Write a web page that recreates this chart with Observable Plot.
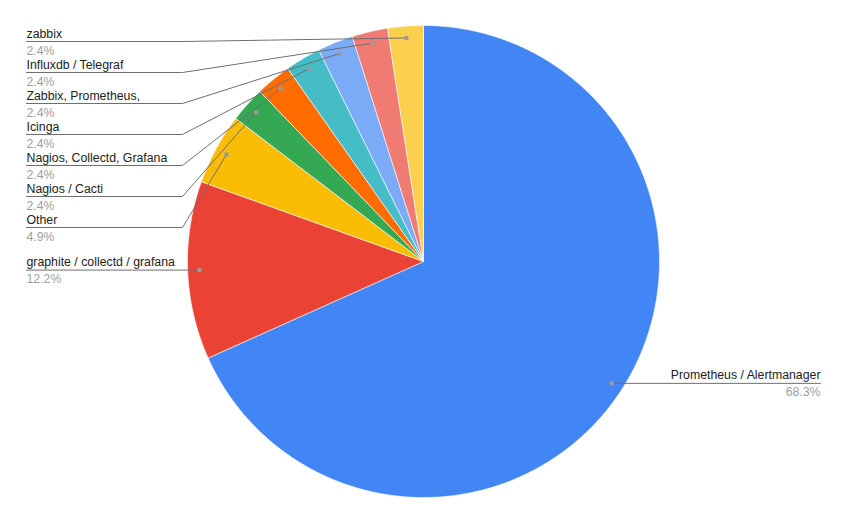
<!DOCTYPE html>
<html>
<head>
<meta charset="utf-8">
<script src="https://cdn.jsdelivr.net/npm/d3@7"></script>
<script src="https://cdn.jsdelivr.net/npm/@observablehq/plot@0.6"></script>
<style>
  html, body { margin: 0; padding: 0; background: #fff; }
  #chart { width: 846px; height: 523px; }
</style>
</head>
<body>
<div id="chart"></div>
<script>
// ---- data ----
const categories = [
  "Prometheus / Alertmanager",
  "graphite / collectd / grafana",
  "Other",
  "Nagios / Cacti",
  "Nagios, Collectd, Grafana",
  "Icinga",
  "Zabbix, Prometheus,",
  "Influxdb / Telegraf",
  "zabbix"
];
const counts = [28, 5, 2, 1, 1, 1, 1, 1, 1];
const colors = ["#4285f4", "#ea4335", "#fbbc04", "#34a853", "#ff6d01", "#46bdc6", "#7baaf7", "#f07b72", "#fcd04f"];

// ---- layout constants (pixels relative to pie centre, y up) ----
const W = 846, H = 523, CX = 423, CY = 261, R = 236;
const FS = 12.3;
const total = d3.sum(counts);
const pie = d3.pie().sort(null).value(d => d)(counts);

// slice polygons
const slicePts = [];
pie.forEach((p, i) => {
  const name = categories[i];
  const steps = Math.max(2, Math.ceil((p.endAngle - p.startAngle) / (Math.PI / 360)));
  slicePts.push({name, x: 0, y: 0});
  for (let k = 0; k <= steps; k++) {
    const a = p.startAngle + (p.endAngle - p.startAngle) * k / steps;
    slicePts.push({name, x: R * Math.sin(a), y: R * Math.cos(a)});
  }
  slicePts.push({name, x: 0, y: 0});
});

// label anchors
const anchors = pie.map((p, i) => {
  const a = (p.startAngle + p.endAngle) / 2;
  return {
    name: categories[i],
    pct: (counts[i] / total * 100).toFixed(1) + "%",
    x: 0.95 * R * Math.sin(a),
    y: 0.95 * R * Math.cos(a),
    left: a > Math.PI
  };
});

// left labels: stacked from top, min spacing 31px, top limit
const leftX0 = 26 - CX, leftX1 = 182 - CX, rightX = 820 - CX;
const leftLabels = anchors.filter(d => d.left).sort((a, b) => b.y - a.y);
let prev = null;
leftLabels.forEach(d => {
  let ly = Math.min(d.y, CY - 41);
  if (prev !== null) ly = Math.min(ly, prev - 31);
  d.ly = ly; prev = ly;
});
const rightLabels = anchors.filter(d => !d.left);
rightLabels.forEach(d => { d.ly = d.y; });

const leaderPts = [];
leftLabels.forEach(d => {
  leaderPts.push({name: d.name, x: leftX0, y: d.ly});
  leaderPts.push({name: d.name, x: leftX1, y: d.ly});
  leaderPts.push({name: d.name, x: d.x, y: d.y});
});
rightLabels.forEach(d => {
  leaderPts.push({name: d.name, x: d.x, y: d.y});
  leaderPts.push({name: d.name, x: rightX, y: d.ly});
});

const leftRows = leftLabels.map(d => ({...d, tx: leftX0}));
const rightRows = rightLabels.map(d => ({...d, tx: rightX}));

const chart = Plot.plot({
  width: W, height: H,
  margin: 0,
  style: {fontFamily: "Arial, 'Liberation Sans', sans-serif", background: "#fff"},
  x: {domain: [-CX, W - CX], range: [0, W], axis: null},
  y: {domain: [-(H - CY), CY], range: [H, 0], axis: null},
  color: {domain: categories, range: colors},
  marks: [
    Plot.line(slicePts, {x: "x", y: "y", z: "name", fill: "name", stroke: "#fff", strokeWidth: 0.6, curve: "linear"}),
    Plot.line(leaderPts, {x: "x", y: "y", z: "name", stroke: "#6f6f6f", strokeWidth: 1}),
    Plot.dot(anchors, {x: "x", y: "y", r: 2.3, fill: "#9a9a9a", stroke: null}),
    Plot.text(leftRows, {x: "tx", y: "ly", text: "name", textAnchor: "start", lineAnchor: "bottom", dy: -4, fontSize: FS, fill: "#222"}),
    Plot.text(leftRows, {x: "tx", y: "ly", text: "pct", textAnchor: "start", lineAnchor: "bottom", dy: 13, fontSize: FS, fill: "#9e9e9e"}),
    Plot.text(rightRows, {x: "tx", y: "ly", text: "name", textAnchor: "end", lineAnchor: "bottom", dy: -4, fontSize: FS, fill: "#222"}),
    Plot.text(rightRows, {x: "tx", y: "ly", text: "pct", textAnchor: "end", lineAnchor: "bottom", dy: 13, fontSize: FS, fill: "#9e9e9e"})
  ]
});
document.getElementById("chart").appendChild(chart);
</script>
</body>
</html>
